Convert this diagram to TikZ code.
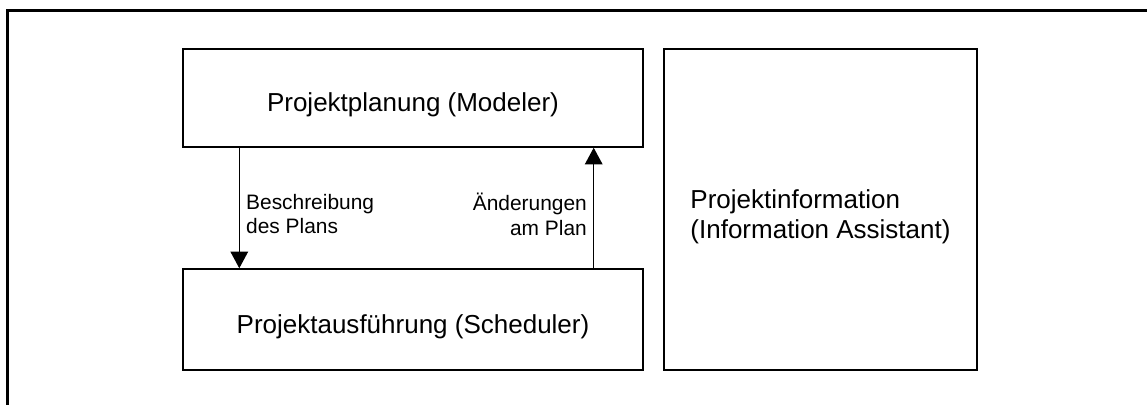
\documentclass[tikz,border=0pt]{standalone}
\usepackage{fontspec}
\setmainfont{Liberation Sans}
\usetikzlibrary{arrows.meta,positioning}

\begin{document}
\begin{tikzpicture}[x=0.02cm, y=-0.02cm,
    frame/.style={line width=1.7pt, black},
    comp/.style={rectangle, draw=black, line width=0.85pt, inner sep=0pt, align=left,
                 font=\fontsize{14.8}{17}\selectfont},
    arrow/.style={-{Triangle[width=10pt, length=9.5pt]}, line width=0.85pt, black},
    lbl/.style={inner xsep=3.5pt, inner ysep=0pt, font=\fontsize{11.9}{14.2}\selectfont}
]
    \useasboundingbox (0,0) rectangle (1147,405);

    % Outer frame, open at right and bottom
    \draw[frame] (7.5,410) -- (7.5,10.5) -- (1150,10.5);

    % Planning and execution on the left
    \node[comp, minimum width=9.2cm, minimum height=1.96cm, text height=15.5pt, text depth=0pt] (plan) at (413, 98) {Projektplanung (Modeler)};
    \node[comp, minimum width=9.2cm, minimum height=2.02cm, text height=15.5pt, text depth=0pt] (exec) at (413, 319.5) {Projektausführung (Scheduler)};

    % Information box on the right
    \node[comp, minimum width=6.26cm, minimum height=6.42cm, text height=36pt] (info) at (820.5, 209.5) {Projektinformation\\(Information Assistant)};

    % Flow between planning and execution
    \draw[arrow] ([xshift=1.14cm]plan.south west) -- node[lbl, right, align=left, pos=0.55] {Beschreibung\\des Plans} ([xshift=1.14cm]exec.north west);
    \draw[arrow] ([xshift=-1cm]exec.north east) -- node[lbl, left, align=right, pos=0.45] {Änderungen\\am Plan} ([xshift=-1cm]plan.south east);

\end{tikzpicture}
\end{document}
